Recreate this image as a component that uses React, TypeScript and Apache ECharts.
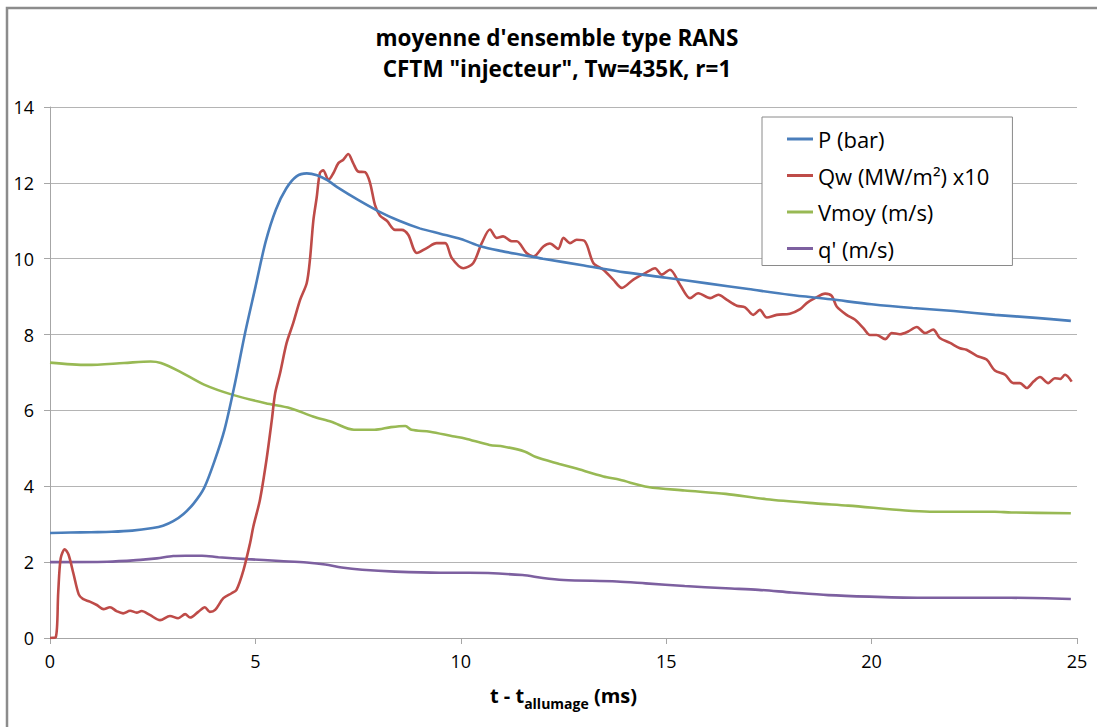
import React, { useEffect, useRef } from "react";
import * as echarts from "echarts";

const TITLE_LINES = ["moyenne d'ensemble type RANS", 'CFTM "injecteur", Tw=435K, r=1'];
const SERIES_NAMES = ["P (bar)", "Qw (MW/m²) x10", "Vmoy (m/s)", "q' (m/s)"];
const SERIES_COLORS = ["#4a7ebb", "#be4b48", "#98b954", "#7d60a0"];
const X_TICKS = [0, 5, 10, 15, 20, 25];
const Y_TICKS = [0, 2, 4, 6, 8, 10, 12, 14];

// P (bar): [t (ms), value]
const pressure: [number, number][] = [
  [0, 2.77], [0.5, 2.78], [1.0, 2.79], [1.5, 2.8], [2.0, 2.83], [2.5, 2.9],
  [2.75, 2.96], [3.0, 3.08], [3.25, 3.27], [3.5, 3.55], [3.75, 3.95], [4.0, 4.65],
  [4.25, 5.5], [4.5, 6.7], [4.75, 8.05], [5.0, 9.25], [5.25, 10.45], [5.5, 11.3],
  [5.75, 11.85], [6.0, 12.17], [6.25, 12.25], [6.5, 12.2], [6.75, 12.07], [7.0, 11.88],
  [7.5, 11.55], [8.0, 11.25], [8.5, 11.0], [9.0, 10.8], [9.5, 10.66], [10.0, 10.52],
  [10.5, 10.32], [11.0, 10.2], [11.5, 10.1], [12.0, 10.0], [13.0, 9.82], [14.0, 9.64],
  [15.0, 9.5], [16.0, 9.35], [17.0, 9.2], [18.0, 9.05], [19.0, 8.93], [20.0, 8.8],
  [21.0, 8.7], [22.0, 8.62], [23.0, 8.52], [24.0, 8.44], [24.85, 8.36],
];

// Qw (MW/m²) x10
const heatFlux: [number, number][] = [
  [0, 0.0], [0.14, 0.02], [0.2, 1.2], [0.26, 2.1], [0.36, 2.34], [0.45, 2.2],
  [0.57, 1.7], [0.7, 1.15], [0.8, 1.03], [0.97, 0.96], [1.14, 0.87], [1.3, 0.76],
  [1.46, 0.81], [1.62, 0.71], [1.78, 0.65], [1.95, 0.72], [2.11, 0.67], [2.23, 0.71],
  [2.43, 0.61], [2.68, 0.47], [2.92, 0.58], [3.12, 0.52], [3.29, 0.63], [3.41, 0.54],
  [3.61, 0.69], [3.77, 0.81], [3.89, 0.69], [4.02, 0.74], [4.22, 1.05], [4.42, 1.18],
  [4.54, 1.27], [4.71, 1.79], [4.87, 2.5], [4.95, 2.94], [5.11, 3.64], [5.27, 4.7],
  [5.4, 5.75], [5.48, 6.45], [5.6, 6.98], [5.76, 7.78], [5.92, 8.3], [6.09, 8.92],
  [6.25, 9.36], [6.33, 10.0], [6.41, 11.0], [6.49, 11.6], [6.57, 12.26], [6.65, 12.33],
  [6.78, 12.08], [6.9, 12.26], [7.02, 12.52], [7.14, 12.61], [7.26, 12.76], [7.38, 12.52],
  [7.5, 12.3], [7.67, 12.28], [7.79, 12.0], [7.91, 11.42], [8.03, 11.14], [8.2, 11.0],
  [8.4, 10.76], [8.56, 10.76], [8.72, 10.63], [8.93, 10.15], [9.17, 10.28], [9.41, 10.41],
  [9.62, 10.41], [9.78, 10.02], [10.06, 9.75], [10.3, 9.88], [10.51, 10.41], [10.71, 10.77],
  [10.87, 10.55], [11.03, 10.59], [11.24, 10.46], [11.36, 10.46], [11.6, 10.15], [11.77, 10.06],
  [12.01, 10.32], [12.17, 10.4], [12.37, 10.26], [12.5, 10.55], [12.66, 10.41], [12.82, 10.5],
  [13.02, 10.46], [13.23, 9.88], [13.47, 9.71], [13.71, 9.45], [13.92, 9.23], [14.2, 9.45],
  [14.49, 9.62], [14.73, 9.75], [14.89, 9.58], [15.09, 9.71], [15.34, 9.31], [15.58, 8.96],
  [15.78, 9.09], [16.07, 8.96], [16.27, 9.05], [16.47, 8.92], [16.72, 8.76], [16.92, 8.72],
  [17.12, 8.52], [17.28, 8.65], [17.45, 8.45], [17.69, 8.52], [18.01, 8.55], [18.26, 8.67],
  [18.42, 8.83], [18.62, 8.96], [18.87, 9.08], [19.03, 9.02], [19.15, 8.74], [19.39, 8.52],
  [19.6, 8.39], [19.8, 8.17], [19.96, 7.99], [20.12, 7.99], [20.33, 7.88], [20.49, 8.04],
  [20.69, 8.01], [20.89, 8.08], [21.1, 8.2], [21.3, 8.04], [21.5, 8.13], [21.66, 7.91],
  [21.91, 7.78], [22.15, 7.64], [22.31, 7.6], [22.56, 7.44], [22.8, 7.34], [23.0, 7.05],
  [23.25, 6.94], [23.45, 6.72], [23.61, 6.72], [23.78, 6.59], [23.94, 6.76], [24.1, 6.88],
  [24.3, 6.72], [24.46, 6.85], [24.59, 6.83], [24.71, 6.94], [24.87, 6.76],
];

// Vmoy (m/s)
const meanVelocity: [number, number][] = [
  [0, 7.26], [0.9, 7.2], [1.8, 7.25], [2.45, 7.29], [2.7, 7.25], [3.15, 7.03],
  [3.75, 6.68], [4.45, 6.41], [5.25, 6.19], [5.85, 6.06], [6.4, 5.84], [6.85, 5.7],
  [7.4, 5.49], [7.9, 5.49], [8.3, 5.56], [8.65, 5.59], [8.8, 5.49], [9.25, 5.44],
  [9.8, 5.32], [10.1, 5.26], [10.7, 5.09], [11.03, 5.05], [11.55, 4.92], [11.83, 4.77],
  [12.4, 4.59], [12.77, 4.48], [13.47, 4.26], [13.87, 4.17], [14.56, 3.98], [15.45, 3.89],
  [16.45, 3.8], [17.44, 3.66], [18.63, 3.55], [19.43, 3.49], [20.82, 3.36], [21.42, 3.33],
  [23.0, 3.33], [23.4, 3.31], [24.85, 3.29],
];

// q' (m/s)
const fluctuation: [number, number][] = [
  [0, 2.0], [1.4, 2.01], [2.2, 2.06], [2.6, 2.1], [3.0, 2.16], [3.3, 2.17],
  [3.7, 2.17], [4.1, 2.13], [4.8, 2.08], [5.6, 2.03], [6.25, 1.99], [6.7, 1.94],
  [7.1, 1.86], [7.6, 1.8], [8.4, 1.75], [9.5, 1.72], [10.2, 1.72], [11.5, 1.66],
  [12.0, 1.58], [12.5, 1.53], [13.8, 1.49], [14.5, 1.44], [15.45, 1.37], [16.45, 1.31],
  [17.25, 1.27], [18.05, 1.2], [18.95, 1.13], [19.95, 1.09], [21.2, 1.06], [23.4, 1.06],
  [24.85, 1.03],
];

const SERIES_DATA = [pressure, heatFlux, meanVelocity, fluctuation];

const FONT = "'Open Sans', 'Noto Sans', sans-serif";

export default function App() {
  const ref = useRef<HTMLDivElement>(null);

  useEffect(() => {
    if (!ref.current) return;
    const chart = echarts.init(ref.current, null, { renderer: "svg" });
    chart.setOption({
      animation: false,
      backgroundColor: "#ffffff",
      textStyle: { fontFamily: FONT },
      title: {
        text: TITLE_LINES.join("\n"),
        left: 557,
        top: 22,
        padding: 0,
        textAlign: "center",
        textStyle: {
          fontFamily: FONT,
          fontSize: 22.5,
          fontWeight: "bold",
          color: "#000000",
          lineHeight: 31,
        },
      },
      legend: {
        orient: "vertical",
        left: 762,
        top: 117,
        padding: [11, 23, 6, 25],
        itemGap: 14.5,
        itemWidth: 26,
        itemHeight: 3,
        icon: "rect",
        borderColor: "#8a8a8a",
        borderWidth: 1,
        backgroundColor: "#ffffff",
        data: SERIES_NAMES,
        textStyle: { fontFamily: FONT, fontSize: 22, color: "#000000", lineHeight: 22 },
      },
      graphic: [
        {
          type: "rect",
          z: -10,
          shape: { x: 7, y: 8, width: 1200, height: 1000 },
          style: { fill: "none", stroke: "#8c8c8c", lineWidth: 2.5 },
        },
      ],
      grid: { left: 50, right: 20, top: 107, bottom: 89, containLabel: false },
      xAxis: {
        type: "value",
        min: X_TICKS[0],
        max: X_TICKS[X_TICKS.length - 1],
        interval: 5,
        name: "{m|t - t}{s|allumage}{m| (ms)}",
        nameLocation: "middle",
        nameGap: 42,
        nameTextStyle: {
          rich: {
            m: { fontFamily: FONT, fontSize: 20, fontWeight: "bold", color: "#000", lineHeight: 30, verticalAlign: "middle" },
            s: { fontFamily: FONT, fontSize: 14, fontWeight: "bold", color: "#000", lineHeight: 14, verticalAlign: "bottom" },
          },
        },
        axisLine: { show: true, onZero: false, lineStyle: { color: "#a6a6a6", width: 1 } },
        axisTick: { show: true, inside: false, length: 6, lineStyle: { color: "#a6a6a6" } },
        axisLabel: { fontFamily: FONT, fontSize: 18, color: "#000", margin: 14 },
        splitLine: { show: false },
      },
      yAxis: {
        type: "value",
        min: Y_TICKS[0],
        max: Y_TICKS[Y_TICKS.length - 1],
        interval: 2,
        axisLine: { show: true, lineStyle: { color: "#a6a6a6", width: 1 } },
        axisTick: { show: true, inside: false, length: 6, lineStyle: { color: "#a6a6a6" } },
        axisLabel: { fontFamily: FONT, fontSize: 18, color: "#000", margin: 16 },
        splitLine: { show: true, lineStyle: { color: "#b4b4b4", width: 1 } },
      },
      series: SERIES_NAMES.map((name, i) => ({
        name,
        type: "line",
        data: SERIES_DATA[i],
        symbol: "none",
        smooth: 0.3,
        color: SERIES_COLORS[i],
        lineStyle: { color: SERIES_COLORS[i], width: 2.6 },
        z: 10 - i,
      })),
    });
    return () => chart.dispose();
  }, []);

  return (
    <div
      ref={ref}
      style={{ position: "fixed", left: 0, top: 0, width: 1097, height: 727, background: "#fff" }}
    />
  );
}
